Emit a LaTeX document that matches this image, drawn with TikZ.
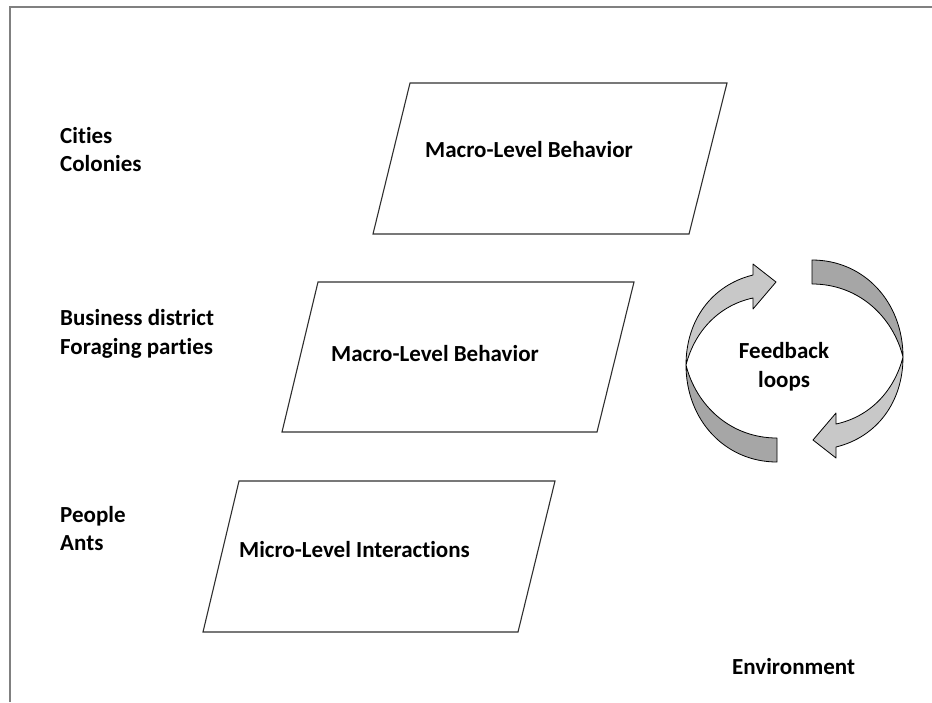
\documentclass[tikz,border=0pt]{standalone}
\usepackage{fontspec}
\setmainfont{Carlito}[Ligatures=NoCommon]
\definecolor{framegray}{HTML}{808080}
\definecolor{lightribbon}{HTML}{C8C8C8}
\definecolor{darkribbon}{HTML}{A6A6A6}
\definecolor{paraline}{HTML}{303030}
\begin{document}
\begin{tikzpicture}[x=1pt,y=-1pt,
  lbl/.style={inner sep=0pt,font=\fontsize{23}{28.5}\selectfont\bfseries,align=left,anchor=base west},
  para/.style={draw=paraline,line width=1.1pt,line join=miter},
  ribbonlight/.style={draw=black,line width=0.8pt,fill=lightribbon,line join=round},
  ribbondark/.style={draw=black,line width=0.8pt,fill=darkribbon,line join=round}]
\useasboundingbox (0,0) rectangle (932,702);
% frame
\draw[framegray,line width=2pt] (10,702) -- (10,7) -- (932,7);
% left labels (anchor = baseline of last line)
\node[lbl] (cities) at (60,171.5) {Cities\\Colonies};
\node[lbl] (business) at (60,354) {Business district\\Foraging parties};
\node[lbl] (people) at (60,550.5) {People\\Ants};
% parallelograms
\draw[para] (410,83) -- (727,83) -- (689,234) -- (373,234) -- cycle;
\node[lbl] (macroA) at (425,157) {Macro-Level Behavior};
\draw[para] (318,282) -- (634,282) -- (597,432) -- (282,432) -- cycle;
\node[lbl] (macroB) at (331,361) {Macro-Level Behavior};
\draw[para] (239,481) -- (555,481) -- (518,632) -- (203,632) -- cycle;
\node[lbl] (micro) at (239,557) {Micro-Level Interactions};
% feedback ribbons
\newcommand{\ribbonarrow}{%
  \draw[ribbondark] (686,365) .. controls (686,420) and (725,462) .. (777,462)
     -- (777,438) .. controls (730,438) and (696,405) .. (686,365) -- cycle;
  \draw[ribbonlight] (753,275) -- (753,264) -- (776,282) -- (753,309) -- (753,298)
     .. controls (720,305) and (695,330) .. (686,365)
     .. controls (686,320) and (712,285) .. (753,275) -- cycle;}
\ribbonarrow
\begin{scope}[rotate around={180:(794.5,361)}]
\ribbonarrow
\end{scope}
\node[lbl,align=center,anchor=base] (feedback) at (784,387) {Feedback\\loops};
\node[lbl] (env) at (732,674) {Environment};
\end{tikzpicture}
\end{document}
